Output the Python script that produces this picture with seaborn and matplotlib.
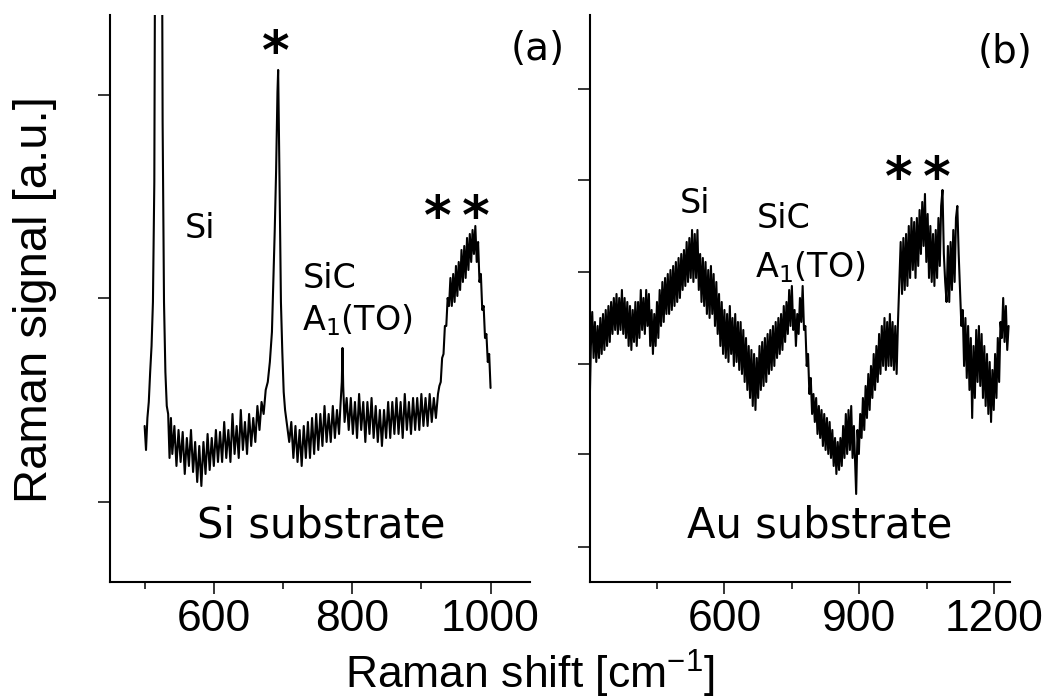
"""Raman spectra of SiC on Si and Au substrates, two side-by-side panels."""

import matplotlib
matplotlib.use("Agg")
import matplotlib.pyplot as plt
import matplotlib.ticker as mticker
import pandas as pd
import seaborn as sns

# =============================================================================
# DATA  (arbitrary units)
# =============================================================================

SI_SHIFT = [
    500, 502, 504, 506, 508, 510, 512, 514, 516, 518, 520, 522, 524, 526, 528,
    530, 532, 534, 536, 538, 540, 543, 546, 549, 552, 555, 558, 561, 564, 567,
    570, 573, 576, 579, 582, 585, 588, 591, 594, 597, 600, 603, 606, 609, 612,
    615, 618, 621, 624, 627, 630, 633, 636, 639, 642, 645, 648, 651, 654, 657,
    660, 663, 666, 669, 672, 675, 678, 681, 684, 686, 688, 690, 691, 692, 693,
    694, 695, 696, 697, 699, 701, 703, 706, 709, 712, 715, 718, 721, 724, 727,
    730, 733, 736, 739, 742, 745, 748, 751, 754, 757, 760, 763, 766, 769, 772,
    775, 778, 781, 783, 785, 786, 787, 789, 792, 795, 798, 801, 804, 807, 810,
    813, 816, 819, 822, 825, 828, 831, 834, 837, 840, 843, 846, 849, 852, 855,
    858, 861, 864, 867, 870, 873, 876, 879, 882, 885, 888, 891, 894, 897, 900,
    903, 906, 909, 912, 915, 918, 921, 924, 926, 928, 930, 932, 934, 936, 938,
    940, 942, 944, 946, 948, 950, 952, 954, 956, 958, 960, 962, 964, 966, 968,
    970, 972, 974, 976, 978, 980, 982, 984, 986, 988, 990, 992, 994, 996, 998,
    1000,
]
SI_SIGNAL = [
    78, 66, 82, 90, 105, 118, 140, 200, 420, 780, 950, 820, 450, 230, 140,
    105, 88, 84, 62, 82, 64, 78, 58, 76, 60, 75, 54, 72, 58, 76,
    55, 70, 50, 68, 48, 70, 54, 74, 56, 72, 58, 76, 60, 75, 60,
    80, 62, 76, 60, 84, 64, 78, 62, 86, 66, 80, 64, 84, 68, 82,
    70, 88, 76, 90, 84, 96, 100, 110, 125, 150, 175, 205, 225, 245, 256,
    230, 200, 170, 140, 115, 95, 86, 78, 70, 80, 62, 78, 60, 76, 58,
    78, 62, 80, 62, 82, 64, 84, 66, 84, 68, 88, 70, 84, 70, 88,
    72, 86, 74, 88, 100, 117, 98, 80, 92, 76, 92, 74, 90, 72, 94,
    76, 90, 70, 90, 74, 92, 72, 88, 70, 86, 68, 86, 72, 90, 72,
    90, 74, 92, 74, 90, 72, 94, 76, 90, 74, 92, 76, 92, 76, 94,
    78, 92, 78, 94, 80, 92, 82, 94, 98, 100, 112, 114, 128, 128, 142,
    138, 152, 138, 154, 140, 158, 143, 160, 146, 166, 150, 168, 152, 172, 156,
    174, 160, 176, 164, 178, 160, 170, 150, 154, 136, 138, 122, 124, 110, 114,
    97,
]

AU_SHIFT = [
    300, 303, 306, 309, 312, 315, 318, 321, 324, 327, 330, 333, 336, 339, 342,
    345, 348, 351, 354, 357, 360, 363, 366, 369, 372, 375, 378, 381, 384, 387,
    390, 393, 396, 399, 402, 405, 408, 411, 414, 417, 420, 423, 426, 429, 432,
    435, 438, 441, 444, 447, 450, 453, 456, 459, 462, 465, 468, 471, 474, 477,
    480, 483, 486, 489, 492, 495, 498, 501, 504, 507, 510, 513, 516, 519, 522,
    525, 528, 531, 534, 537, 540, 543, 546, 549, 552, 555, 558, 561, 564, 567,
    570, 573, 576, 579, 582, 585, 588, 591, 594, 597, 600, 603, 606, 609, 612,
    615, 618, 621, 624, 627, 630, 633, 636, 639, 642, 645, 648, 651, 654, 657,
    660, 663, 666, 669, 672, 675, 678, 681, 684, 687, 690, 693, 696, 699, 702,
    705, 708, 711, 714, 717, 720, 723, 726, 729, 732, 735, 738, 741, 744, 747,
    750, 753, 756, 759, 762, 765, 768, 771, 774, 777, 780, 783, 786, 789, 792,
    795, 798, 801, 804, 807, 810, 813, 816, 819, 822, 825, 828, 831, 834, 837,
    840, 843, 846, 849, 852, 855, 858, 861, 864, 867, 870, 873, 876, 879, 882,
    885, 888, 891, 893, 896, 899, 902, 905, 908, 911, 914, 917, 920, 923, 926,
    929, 932, 935, 938, 941, 944, 947, 950, 953, 956, 959, 962, 965, 968, 971,
    974, 977, 980, 983, 986, 989, 992, 995, 998, 1001, 1004, 1007, 1010, 1013,
    1016,
    1019, 1022, 1025, 1028, 1031, 1034, 1037, 1040, 1043, 1046, 1049, 1052,
    1055, 1058, 1061,
    1064, 1067, 1070, 1073, 1076, 1079, 1082, 1085, 1088, 1091, 1094, 1097,
    1100, 1103, 1106,
    1109, 1112, 1115, 1118, 1121, 1124, 1127, 1130, 1133, 1136, 1139, 1142,
    1145, 1148, 1151,
    1154, 1157, 1160, 1163, 1166, 1169, 1172, 1175, 1178, 1181, 1184, 1187,
    1190, 1193, 1196,
    1199, 1202, 1205, 1208, 1211, 1214, 1217, 1220, 1223, 1226, 1229, 1232,
]
AU_SIGNAL = [
    85, 118, 135, 112, 130, 110, 128, 112, 132, 114, 134, 116, 136, 118, 138,
    120, 140, 124, 142, 126, 144, 124, 142, 126, 146, 124, 142, 122, 140, 118,
    138, 116, 136, 120, 140, 118, 140, 122, 146, 126, 142, 124, 146, 128, 144,
    118, 136, 114, 134, 118, 140, 122, 146, 128, 150, 130, 152, 134, 154, 134,
    156, 136, 158, 138, 160, 140, 162, 142, 164, 146, 166, 148, 170, 150, 172,
    152, 176, 150, 174, 152, 176, 146, 164, 140, 162, 138, 160, 134, 156, 132,
    158, 134, 154, 128, 150, 124, 144, 118, 140, 114, 136, 112, 134, 110, 138,
    114, 132, 108, 134, 110, 130, 106, 130, 104, 126, 100, 122, 96, 118, 92,
    116, 88, 114, 86, 112, 92, 118, 96, 120, 98, 122, 100, 124, 104, 126,
    106, 128, 108, 130, 112, 132, 114, 134, 116, 138, 120, 140, 124, 146, 128,
    148, 126, 136, 118, 134, 124, 142, 130, 148, 126, 128, 108, 114, 94, 102,
    84, 94, 80, 92, 74, 88, 72, 86, 68, 84, 66, 82, 64, 80, 62,
    76, 58, 72, 54, 70, 56, 72, 58, 78, 62, 84, 64, 86, 66, 88,
    62, 78, 58, 44, 76, 64, 84, 72, 92, 76, 98, 82, 104, 86, 108,
    92, 114, 96, 118, 100, 124, 104, 128, 108, 132, 106, 130, 108, 134, 108,
    130, 106, 128, 104, 130, 150, 170, 144, 172, 146, 174, 148, 178, 152, 182,
    156, 180, 152, 182, 158, 186, 164, 190, 168, 194, 160, 184, 152, 178, 150,
    174, 148, 176, 152, 182, 158, 188, 196, 164, 150, 140, 168, 140, 170, 146,
    176, 150, 182, 188, 164, 146, 128, 136, 108, 132, 102, 128, 96, 122, 82,
    118, 92, 126, 100, 128, 98, 124, 92, 118, 88, 114, 84, 110, 80, 106,
    86, 114, 92, 122, 100, 130, 122, 142, 120, 138, 116, 128,
]

SI_TICKS_MAJOR = [600, 800, 1000]
SI_TICKS_MINOR = [500, 700, 900]
AU_TICKS_MAJOR = [600, 900, 1200]
AU_TICKS_MINOR = [450, 750, 1050]

# =============================================================================
# STYLE
# =============================================================================

FS_TICK = 32
FS_XLABEL = 32
FS_YLABEL = 34
FS_PEAK = 24
FS_SUB = 28
FS_STAR = 38
ANNOT_FONT = ["DejaVu Sans"]
STARS = "*\u2009*"


def style_axes(ax, xlim, ylim, major, minor, yticks):
    ax.set_xlim(*xlim)
    ax.set_ylim(*ylim)
    ax.xaxis.set_major_locator(mticker.FixedLocator(major))
    ax.xaxis.set_minor_locator(mticker.FixedLocator(minor))
    ax.set_yticks(yticks)
    ax.set_yticklabels([])
    ax.set_xlabel("")
    ax.set_ylabel("")
    for side in ("top", "right"):
        ax.spines[side].set_visible(False)
    for side in ("left", "bottom"):
        ax.spines[side].set_linewidth(1.5)
        ax.spines[side].set_color("black")
    ax.tick_params(which="major", direction="out", length=8.5, width=1.1,
                   labelsize=FS_TICK, colors="black", pad=4)
    ax.tick_params(which="minor", direction="out", length=5, width=1.1,
                   colors="black")


def label(ax, x, y, s, size, **kw):
    ax.text(x, y, s, transform=ax.transAxes, fontsize=size, color="black",
            family=ANNOT_FONT, clip_on=False, **kw)


def main():
    sns.set_style("ticks")
    plt.rcParams["font.family"] = ["Liberation Sans", "DejaVu Sans"]
    plt.rcParams["mathtext.fontset"] = "custom"
    plt.rcParams["mathtext.rm"] = "Liberation Sans"
    plt.rcParams["text.color"] = "black"

    fig = plt.figure(figsize=(10.47, 6.99), dpi=100)
    ax_si = fig.add_axes([0.1051, 0.1674, 0.4011, 0.8112])
    ax_au = fig.add_axes([0.5635, 0.1674, 0.4011, 0.8112])

    si_df = pd.DataFrame({"shift": SI_SHIFT, "signal": SI_SIGNAL})
    au_df = pd.DataFrame({"shift": AU_SHIFT, "signal": AU_SIGNAL})

    sns.lineplot(data=si_df, x="shift", y="signal", estimator=None,
                 color="black", linewidth=1.5, ax=ax_si)
    sns.lineplot(data=au_df, x="shift", y="signal", estimator=None,
                 color="black", linewidth=1.5, ax=ax_au)

    style_axes(ax_si, (450, 1057), (0, 283.5), SI_TICKS_MAJOR, SI_TICKS_MINOR,
               [40, 142, 243.5])
    style_axes(ax_au, (301, 1235), (0, 283.5), AU_TICKS_MAJOR, AU_TICKS_MINOR,
               [17.5, 64, 109, 155, 201, 246.5])

    # panel (a) annotations
    label(ax_si, 0.1786, 0.607, "Si", FS_PEAK)
    label(ax_si, 0.4595, 0.5185, "SiC", FS_PEAK)
    label(ax_si, 0.457, 0.444, r"A$_{\mathregular{1}}$(TO)", FS_PEAK)
    label(ax_si, 0.3952, 0.905, "*", FS_STAR, ha="center", weight="bold")
    label(ax_si, 0.826, 0.614, STARS, FS_STAR, ha="center", weight="bold")
    label(ax_si, 1.019, 0.921, "(a)", FS_SUB, ha="center")
    label(ax_si, 0.207, 0.0776, "Si substrate", FS_SUB + 2)

    # panel (b) annotations
    label(ax_au, 0.214, 0.651, "Si", FS_PEAK)
    label(ax_au, 0.398, 0.624, "SiC", FS_PEAK)
    label(ax_au, 0.393, 0.538, r"A$_{\mathregular{1}}$(TO)", FS_PEAK)
    label(ax_au, 0.781, 0.6825, STARS, FS_STAR, ha="center", weight="bold")
    label(ax_au, 0.988, 0.915, "(b)", FS_SUB, ha="center")
    label(ax_au, 0.231, 0.079, "Au substrate", FS_SUB + 2)

    fig.text(0.0334, 0.571, "Raman signal [a.u.]", rotation=90,
             ha="center", va="center", fontsize=FS_YLABEL)
    fig.text(0.506, 0.015, r"Raman shift [cm$^{\mathregular{-1}}$]",
             ha="center", va="baseline", fontsize=FS_XLABEL)

    fig.savefig("out.png", dpi=100)
    plt.close(fig)


if __name__ == "__main__":
    main()
